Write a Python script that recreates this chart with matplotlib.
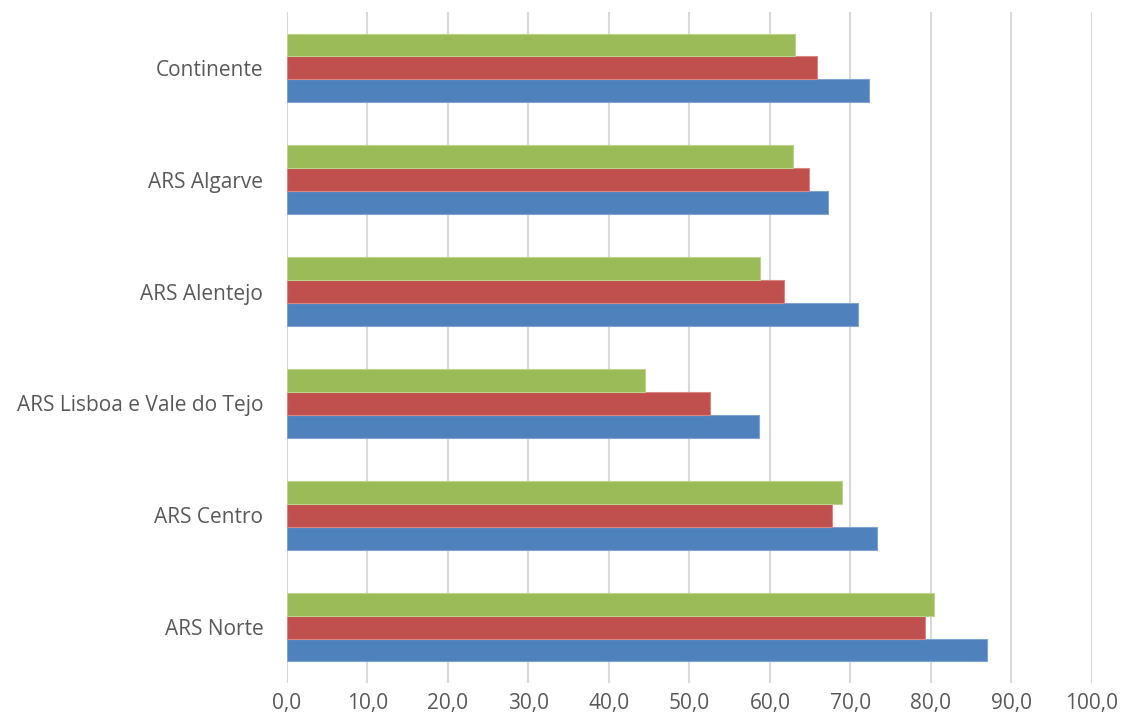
import numpy as np
import matplotlib.pyplot as plt
from matplotlib.ticker import FuncFormatter

categories = ['ARS Norte', 'ARS Centro', 'ARS Lisboa e Vale do Tejo',
              'ARS Alentejo', 'ARS Algarve', 'Continente']
blue_vals = [86.9, 73.3, 58.7, 70.9, 67.2, 72.3]
red_vals = [79.3, 67.7, 52.6, 61.8, 64.9, 65.9]
green_vals = [80.4, 69.0, 44.5, 58.8, 62.8, 63.1]

plt.rcParams['font.family'] = ['Open Sans', 'DejaVu Sans']

fig = plt.figure(figsize=(11.24, 7.26), dpi=100)
ax = fig.add_axes([0.2553, 0.0592, 0.7162, 0.9243])

y = np.arange(len(categories))
h = 0.205
ax.barh(y - h, blue_vals, height=h, color='#4F81BD', edgecolor='#7FA3D3', linewidth=0.8, zorder=3)
ax.barh(y, red_vals, height=h, color='#C0504D', edgecolor='#D98582', linewidth=0.8, zorder=3)
ax.barh(y + h, green_vals, height=h, color='#9BBB59', edgecolor='#BCD38E', linewidth=0.8, zorder=3)

ax.set_xlim(0, 100)
ax.set_ylim(-0.5, len(categories) - 0.5)
ax.set_xticks(np.arange(0, 101, 10))
ax.xaxis.set_major_formatter(FuncFormatter(lambda v, p: f'{v:.1f}'.replace('.', ',')))
ax.set_yticks(y)
ax.set_yticklabels(categories)

ax.grid(axis='x', color='#D9D9D9', linewidth=1.5, zorder=0)
for s in ax.spines.values():
    s.set_visible(False)
ax.tick_params(axis='both', length=0, labelsize=15, colors='#595959')
ax.tick_params(axis='y', pad=17)
ax.tick_params(axis='x', pad=7)

fig.savefig('out.png', dpi=100)
